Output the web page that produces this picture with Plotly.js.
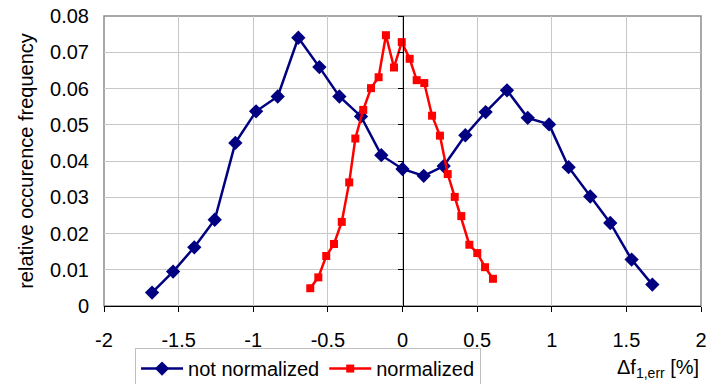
<!DOCTYPE html>
<html>
<head>
<meta charset="utf-8">
<script src="https://cdn.plot.ly/plotly-3.0.1.min.js"></script>
<style>html,body{margin:0;padding:0;background:#fff;}#chart{width:709px;height:384px;}</style>
</head>
<body>
<div id="chart"></div>
<script>
var notNormX = [-1.678, -1.537, -1.395, -1.258, -1.120, -0.981, -0.836, -0.698, -0.557, -0.423, -0.278, -0.142, 0.000, 0.142, 0.276, 0.421, 0.557, 0.700, 0.839, 0.982, 1.113, 1.258, 1.392, 1.535, 1.674];
var notNormY = [0.0037, 0.0095, 0.0162, 0.0238, 0.0450, 0.0537, 0.0578, 0.0740, 0.0659, 0.0578, 0.0523, 0.0416, 0.0378, 0.0359, 0.0386, 0.0471, 0.0535, 0.0595, 0.0519, 0.0501, 0.0383, 0.0302, 0.0229, 0.0128, 0.0059];
var normX = [-0.618, -0.564, -0.511, -0.459, -0.407, -0.357, -0.316, -0.263, -0.211, -0.160, -0.111, -0.057, -0.005, 0.048, 0.095, 0.146, 0.198, 0.251, 0.303, 0.350, 0.394, 0.448, 0.501, 0.553, 0.606];
var normY = [0.0049, 0.0079, 0.0138, 0.0171, 0.0232, 0.0341, 0.0462, 0.0541, 0.0601, 0.0631, 0.0747, 0.0658, 0.0728, 0.0682, 0.0623, 0.0615, 0.0525, 0.0470, 0.0364, 0.0301, 0.0248, 0.0169, 0.0146, 0.0107, 0.0075];
var xTickVals = [-2, -1.5, -1, -0.5, 0, 0.5, 1, 1.5, 2];
var xTickText = ["-2", "-1.5", "-1", "-0.5", "0", "0.5", "1", "1.5", "2"];
var seriesNames = ["not normalized", "normalized"];
var yTitle = "relative occurence frequency";
var xTitle = "\u0394f<sub>1,err</sub> [%]";

var FONT = "Liberation Sans, Arial, sans-serif";
var FS = 20;
var traces = [
  {x: notNormX, y: notNormY, name: seriesNames[0], type: "scatter", mode: "lines+markers",
   line: {color: "#000080", width: 2.5}, marker: {symbol: "diamond", size: 11, color: "#000080"}},
  {x: normX, y: normY, name: seriesNames[1], type: "scatter", mode: "lines+markers",
   line: {color: "#ff0000", width: 2.5}, marker: {symbol: "square", size: 8, color: "#ff0000"}},
  {x: [], y: [], yaxis: "y2", showlegend: false, hoverinfo: "skip", type: "scatter"}
];
var layout = {
  width: 709, height: 384,
  margin: {l: 104, r: 8, t: 16, b: 78, pad: 0, autoexpand: false},
  paper_bgcolor: "#fff", plot_bgcolor: "#fff",
  font: {family: FONT, size: FS, color: "#000"},
  showlegend: true,
  xaxis: {range: [-2, 2], tickvals: xTickVals, ticktext: xTickText,
    showgrid: true, gridcolor: "#c8c8c8", gridwidth: 1, zeroline: false,
    showline: true, linecolor: "#000", linewidth: 1,
    ticks: "outside", ticklen: 5, tickcolor: "#000", tickwidth: 1,
    ticklabelstandoff: 11, tickfont: {family: FONT, size: FS}, fixedrange: true, automargin: false},
  yaxis: {range: [0, 0.08], dtick: 0.01, tick0: 0,
    showgrid: true, gridcolor: "#c8c8c8", gridwidth: 1, zeroline: false,
    showline: false, ticks: "", ticklabelstandoff: 14,
    tickfont: {family: FONT, size: FS}, automargin: false,
    title: {text: yTitle, font: {family: FONT, size: FS}, standoff: 11}, fixedrange: true},
  yaxis2: {range: [0, 0.08], dtick: 0.01, tick0: 0, overlaying: "y", anchor: "free", position: 0.5,
    side: "left", showgrid: false, zeroline: false, showline: true, linecolor: "#000", linewidth: 1,
    ticks: "outside", ticklen: 5, tickcolor: "#000", showticklabels: false, fixedrange: true},
  shapes: [
    {type: "rect", xref: "paper", yref: "paper", x0: 0, x1: 1, y0: 0, y1: 1,
     line: {color: "#8c8c8c", width: 1.5}, layer: "below"}
  ],
  legend: {orientation: "h", x: 0.052, y: -0.145, xanchor: "left", yanchor: "top",
    bordercolor: "#c0c0c0", borderwidth: 1, bgcolor: "#fff", itemwidth: 42,
    font: {family: FONT, size: FS}, tracegroupgap: 0},
  annotations: [
    {xref: "paper", yref: "paper", x: 1.0, y: -0.215, xanchor: "right", yanchor: "middle",
     text: xTitle, showarrow: false, font: {family: FONT, size: FS}}
  ]
};
Plotly.newPlot("chart", traces, layout, {displayModeBar: false, staticPlot: true});
</script>
</body>
</html>
